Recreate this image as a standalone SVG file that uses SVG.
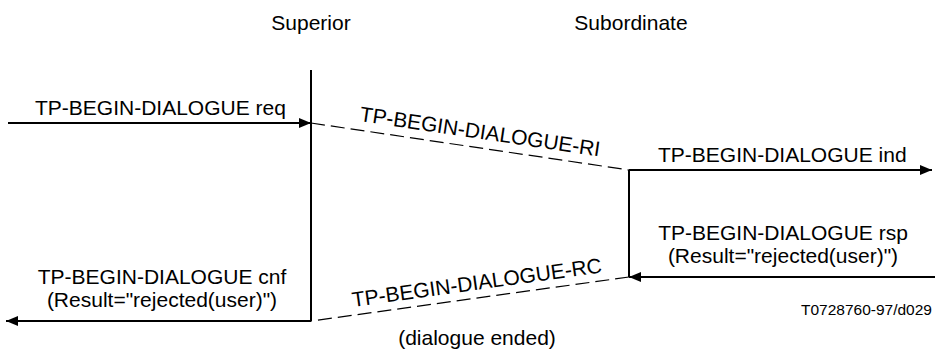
<svg xmlns="http://www.w3.org/2000/svg" width="935" height="351" viewBox="0 0 935 351">
<style>
text{font-family:"Liberation Sans",Arial,sans-serif;font-size:21px;fill:#000}
.small{font-size:15.5px}
.solid{stroke:#000;stroke-width:2;fill:none}
.dash{stroke:#000;stroke-width:1.2;fill:none;stroke-dasharray:14 6}
</style>
<defs>
<marker id="ah" markerUnits="userSpaceOnUse" markerWidth="12" markerHeight="10" refX="12" refY="5" orient="auto">
<path d="M0,0 L12,5 L0,10 Z" fill="#000"/>
</marker>
</defs>
<g id="superior">
<text x="311" y="30" text-anchor="middle">Superior</text>
</g>
<g id="subordinate">
<text x="631" y="30" text-anchor="middle">Subordinate</text>
</g>
<g id="connectors">
<line class="solid" x1="311" y1="70" x2="311" y2="321"/>
<line class="solid" x1="629" y1="170" x2="629" y2="277"/>
<line class="solid" x1="8" y1="123" x2="311" y2="123" marker-end="url(#ah)"/>
<line class="dash" x1="311" y1="123" x2="629" y2="170"/>
<line class="solid" x1="629" y1="170" x2="932" y2="170" marker-end="url(#ah)"/>
<line class="solid" x1="935" y1="277" x2="629" y2="277" marker-end="url(#ah)"/>
<line class="dash" x1="629" y1="277" x2="311" y2="321"/>
<line class="solid" x1="311" y1="321" x2="6" y2="321" marker-end="url(#ah)"/>
</g>
<g id="labels">
<text x="35" y="115">TP-BEGIN-DIALOGUE req</text>
<text transform="translate(359,121) rotate(8.4)">TP-BEGIN-DIALOGUE-RI</text>
<text x="658" y="162">TP-BEGIN-DIALOGUE ind</text>
<text x="783" y="240" text-anchor="middle">TP-BEGIN-DIALOGUE rsp</text>
<text x="783" y="263" text-anchor="middle">(Result="rejected(user)")</text>
<text transform="translate(353,307) rotate(-7.9)">TP-BEGIN-DIALOGUE-RC</text>
<text x="162" y="284" text-anchor="middle">TP-BEGIN-DIALOGUE cnf</text>
<text x="162" y="307" text-anchor="middle">(Result="rejected(user)")</text>
<text x="477" y="345" text-anchor="middle">(dialogue ended)</text>
<text class="small" x="932" y="315" text-anchor="end">T0728760-97/d029</text>
</g>
</svg>
